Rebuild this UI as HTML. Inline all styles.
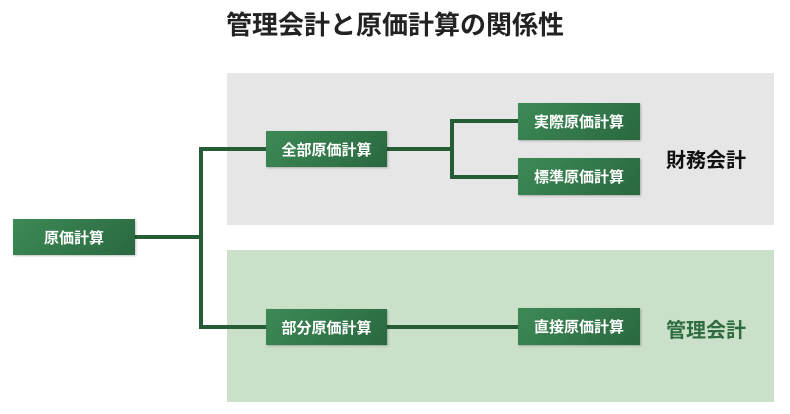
<!DOCTYPE html>
<html><head><meta charset="utf-8"><style>
body{margin:0;width:790px;height:414px;background:#fff;position:relative;overflow:hidden;font-family:"Liberation Sans","Noto Sans CJK JP",sans-serif}
.a{position:absolute}
.box{position:absolute;background:linear-gradient(135deg,#3d8a56,#2a6840);color:#fff;font-weight:bold;font-size:15px;display:flex;align-items:center;justify-content:center;box-shadow:1px 1px 2px rgba(0,0,0,.25)}
.l{position:absolute;background:#265c36}
</style></head><body>
<div class="a" style="left:0;width:790px;top:7px;text-align:center;font-size:26px;line-height:36px;font-weight:bold;color:#222">管理会計と原価計算の関係性</div>
<div class="a" style="left:227px;top:73px;width:547px;height:152px;background:#e6e6e6"></div>
<div class="a" style="left:227px;top:250px;width:547px;height:152px;background:#cbe0c8"></div>
<div class="l" style="left:135px;top:235px;width:67px;height:4px"></div>
<div class="l" style="left:199px;top:147px;width:4px;height:182px"></div>
<div class="l" style="left:199px;top:147px;width:67px;height:4px"></div>
<div class="l" style="left:199px;top:325px;width:67px;height:4px"></div>
<div class="l" style="left:387px;top:147px;width:67px;height:4px"></div>
<div class="l" style="left:450px;top:119px;width:4px;height:60px"></div>
<div class="l" style="left:450px;top:119px;width:68px;height:4px"></div>
<div class="l" style="left:450px;top:175px;width:68px;height:4px"></div>
<div class="l" style="left:387px;top:325px;width:131px;height:4px"></div>
<div class="box" style="left:13px;top:219px;width:122px;height:36px">原価計算</div>
<div class="box" style="left:266px;top:131px;width:121px;height:36px">全部原価計算</div>
<div class="box" style="left:266px;top:309px;width:121px;height:36px">部分原価計算</div>
<div class="box" style="left:518px;top:103px;width:122px;height:37px">実際原価計算</div>
<div class="box" style="left:518px;top:158px;width:122px;height:37px">標準原価計算</div>
<div class="box" style="left:518px;top:308px;width:122px;height:37px">直接原価計算</div>
<div class="a" style="left:666px;top:144px;font-size:20px;font-weight:bold;color:#111">財務会計</div>
<div class="a" style="left:666px;top:314px;font-size:20px;font-weight:bold;color:#2e6b40">管理会計</div>
</body></html>
